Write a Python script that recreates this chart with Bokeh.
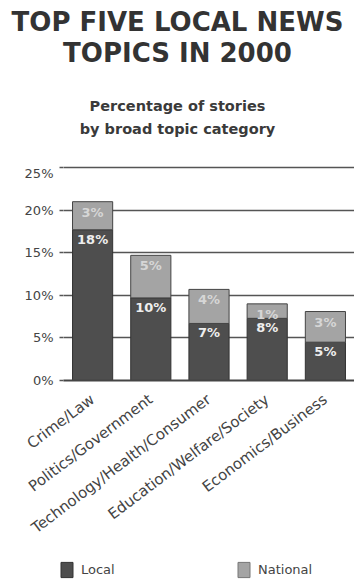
import math
from bokeh.plotting import figure
from bokeh.layouts import column
from bokeh.models import (ColumnDataSource, Label, Legend, LegendItem, FactorRange,
                          FixedTicker, Range1d)
from bokeh.core.properties import value
from bokeh.embed import file_html
from bokeh.resources import INLINE

categories = ["Crime/Law", "Politics/Government", "Technology/Health/Consumer",
              "Education/Welfare/Society", "Economics/Business"]
local = [17.7, 9.7, 6.7, 7.3, 4.5]
national = [3.3, 5.0, 4.0, 1.7, 3.6]
local_labels = ["18%", "10%", "7%", "8%", "5%"]
national_labels = ["3%", "5%", "4%", "1%", "3%"]
y_ticks = [0, 5, 10, 15, 20, 25]
y_tick_labels = ["0%", "5%", "10%", "15%", "20%", "25%"]
series_names = ["Local", "National"]
title_lines = ["TOP FIVE LOCAL NEWS", "TOPICS IN 2000"]
subtitle_lines = ["Percentage of stories", "by broad topic category"]

LOCAL_COLOR = "#4e4e4e"
NAT_COLOR = "#a4a4a4"
TXT = "#3a3a3a"
FONT = "DejaVu Sans"
W = 354
LEFT = 63
HEAD_H = 165
MAIN_H = 385
LEG_H = 583 - HEAD_H - MAIN_H


def bare(height, x_range, y_range):
    f = figure(width=W, height=height, x_range=x_range, y_range=y_range,
               x_axis_location=None, y_axis_location=None,
               output_backend="svg", toolbar_location=None,
               min_border_left=0, min_border_right=0, min_border_top=0, min_border_bottom=0)
    f.title = None
    f.grid.visible = False
    f.outline_line_color = None
    f.frame_align = False   # do not align this strip's frame with the chart's frame
    return f


# ---------- header (title + subtitle) ----------
hd = bare(HEAD_H, Range1d(0, W), Range1d(HEAD_H, 0))
for txt, yb in zip(title_lines, [21, 52]):
    hd.add_layout(Label(x=W / 2, y=yb, text=txt, text_align="center",
                        text_baseline="alphabetic", text_font=FONT, text_font_size="26px",
                        text_font_style="bold", text_color="#333333"))
for txt, yb in zip(subtitle_lines, [105, 128]):
    hd.add_layout(Label(x=W / 2, y=yb, text=txt, text_align="center",
                        text_baseline="alphabetic", text_font=FONT, text_font_size="14.5px",
                        text_font_style="bold", text_color=TXT))

# ---------- main chart ----------
totals = [a + b for a, b in zip(local, national)]
src = ColumnDataSource(dict(cat=categories, local=local, national=national,
                            total=totals, ll=local_labels, nl=national_labels))

p = figure(width=W, height=MAIN_H, x_range=FactorRange(*categories), y_range=(0, 25.25),
           output_backend="svg", toolbar_location=None,
           min_border_left=LEFT, min_border_right=0, min_border_top=0,
           min_border_bottom=MAIN_H - 215)
p.title = None
p.outline_line_color = None

r_local = p.vbar(x="cat", bottom=0, top="local", width=0.69, source=src,
                 fill_color=LOCAL_COLOR, line_color="#333333", line_width=1)
r_nat = p.vbar(x="cat", bottom="local", top="total", width=0.69, source=src,
               fill_color=NAT_COLOR, line_color="#444444", line_width=1)

p.text(x="cat", y="local", text="ll", source=src, text_align="center", text_baseline="top",
       y_offset=2, text_font=value(FONT), text_font_size="13px", text_font_style="bold",
       text_color="#eeeeee")
p.text(x="cat", y="total", text="nl", source=src, text_align="center", text_baseline="top",
       y_offset=3, text_font=value(FONT), text_font_size="13px", text_font_style="bold",
       text_color="#d6d6d6")

p.yaxis.ticker = FixedTicker(ticks=y_ticks)
p.yaxis.major_label_overrides = {t: l for t, l in zip(y_ticks, y_tick_labels)}
p.yaxis.axis_line_color = None
p.yaxis.major_tick_in = 0
p.yaxis.major_tick_out = 4
p.yaxis.major_tick_line_color = "#555555"
p.yaxis.major_tick_line_width = 1.5
p.yaxis.minor_tick_line_color = None
p.yaxis.major_label_text_font = FONT
p.yaxis.major_label_text_font_size = "13px"
p.yaxis.major_label_text_color = "#444444"
p.yaxis.major_label_standoff = 6

p.xaxis.axis_line_color = "#444444"
p.xaxis.axis_line_width = 2
p.xaxis.major_tick_line_color = None
p.xaxis.major_label_orientation = math.radians(37)
p.xaxis.major_label_text_font = FONT
p.xaxis.major_label_text_font_size = "15px"
p.xaxis.major_label_text_color = "#444444"
p.xaxis.major_label_standoff = 11

p.xgrid.grid_line_color = None
p.ygrid.ticker = FixedTicker(ticks=y_ticks)
p.ygrid.grid_line_color = "#555555"
p.ygrid.grid_line_width = 1.5

# ---------- legend strip ----------
lg = bare(LEG_H, Range1d(0, 1), Range1d(0, 1))
proxy = ColumnDataSource(dict(x=[-5], top=[-5]))  # off-range proxies for legend swatches
g1 = lg.vbar(x="x", top="top", bottom=-6, width=0.1, source=proxy, fill_color=LOCAL_COLOR,
             line_color="#333333")
g2 = lg.vbar(x="x", top="top", bottom=-6, width=0.1, source=proxy, fill_color=NAT_COLOR,
             line_color="#777777")
legend = Legend(items=[LegendItem(label=series_names[0], renderers=[g1]),
                       LegendItem(label=series_names[1], renderers=[g2])],
                location=(59, 4), orientation="horizontal", spacing=115,
                glyph_width=15, glyph_height=19, label_standoff=7, label_width=40,
                label_text_font=FONT, label_text_font_size="13px",
                label_text_color="#444444",
                padding=0, margin=0, background_fill_alpha=0, border_line_alpha=0)
lg.add_layout(legend)

open("out.html", "w").write(file_html(column(hd, p, lg, spacing=0), INLINE))
